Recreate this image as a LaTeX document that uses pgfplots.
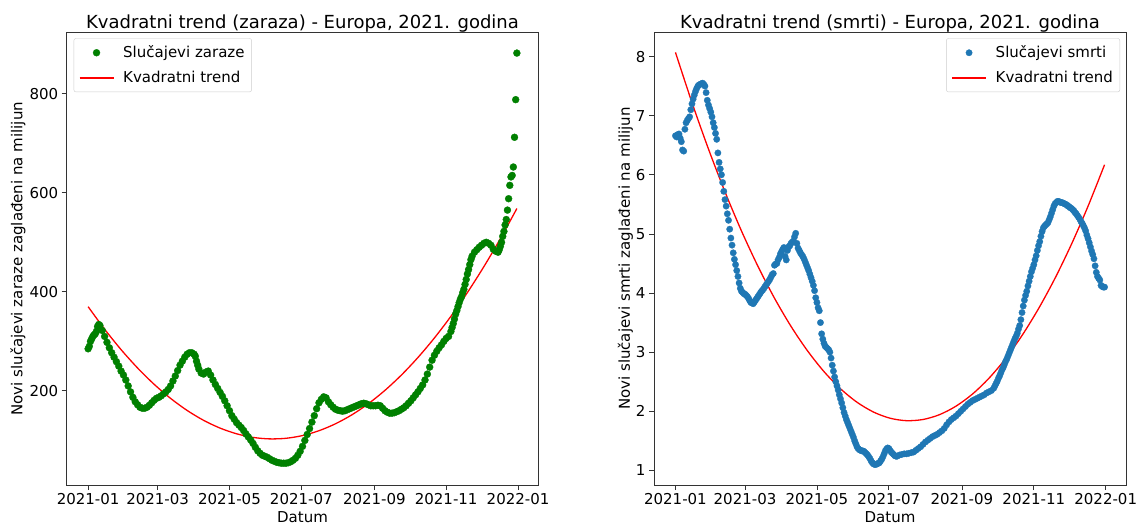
\documentclass[border=0pt]{standalone}
\usepackage{fontspec}
\setmainfont{DejaVu Sans}
\usepackage{pgfplots}
\pgfplotsset{compat=1.18}
\definecolor{mgreen}{HTML}{008000}
\definecolor{mblue}{HTML}{1F77B4}
\definecolor{mred}{HTML}{FF0000}
\pgfplotsset{
  scatleg/.style={legend image code/.code={\draw[##1] plot coordinates {(17pt,0pt)};}},
  lineleg/.style={legend image code/.code={\draw[##1] (0pt,0pt) -- (34pt,0pt);}},
  mystyle/.style={
    scale only axis,
    xmin=-18.2, xmax=382.2,
    xtick={0,59,120,181,243,304,365},
    xticklabels={2021-01,2021-03,2021-05,2021-07,2021-09,2021-11,2022-01},
    tick align=outside,
    xtick pos=bottom, ytick pos=left,
    major tick length=5pt,
    tick style={black!80, line width=0.8pt},
    axis line style={black!80, line width=0.8pt},
    /pgf/number format/assume math mode=true,
    tick label style={font=\fontsize{15}{18}\selectfont},
    every axis x label/.style={at={(axis description cs:0.5,0)}, anchor=center, yshift=-32pt, font=\fontsize{15}{18}\selectfont},
    title style={at={(axis description cs:0.5,1)}, anchor=base, yshift=-2pt, font=\fontsize{18}{21}\selectfont, inner sep=0pt},
    legend style={draw=black!20, rounded corners=2pt, fill=white, font=\fontsize{15}{18}\selectfont, inner xsep=5pt, inner ysep=5.5pt, row sep=8pt,
      /tikz/every odd column/.append style={column sep=7pt}},
    legend cell align=left,
  }
}
\begin{document}
\begin{tikzpicture}
\path[use as bounding box] (0,0) rectangle (1139pt,525pt);
\begin{axis}[mystyle,
  at={(66.7pt,40pt)}, anchor=south west, width=471.6pt, height=452.7pt,
  ymin=10, ymax=924, ytick={200,400,600,800},
  title={Kvadratni trend (zaraza) - Europa, 2021. godina},
  xlabel={Datum},
  ylabel={Novi slučajevi zaraze zaglađeni na milijun},
  every axis y label/.style={at={(axis description cs:0,0.5)}, rotate=90, anchor=center, yshift=48.7pt, font=\fontsize{15}{18}\selectfont},
  legend style={at={(axis description cs:0,1)}, anchor=north west, xshift=7pt, yshift=-6pt},
]
\addplot[only marks, mark=*, mark size=3.5pt, mark options={draw=mgreen, fill=mgreen, line width=0.3pt}, scatleg]
coordinates {
(0,285)(1,290)(2,300)(3,305)(4,310)(5,313)(6,315)(7,320)(8,330)(9,334)(10,332)(12,322)(14,310)(16,298)(18,287)(20,277)(22,268)(24,259)(26,250)(28,240)(30,232)(32,222)(34,210)(36,198)(38,187)(40,178)(42,172)(44,167)(46,165)(48,165)(50,167)(52,171)(54,176)(56,181)(58,185)(60,187)(62,190)(64,194)(66,198)(68,203)(70,210)(72,220)(74,230)(76,241)(78,252)(80,260)(82,268)(84,274)(86,277)(88,277)(90,274)(91,270)(92,260)(93,252)(94,244)(96,236)(98,234)(100,238)(102,240)(104,232)(106,222)(108,213)(110,205)(112,197)(114,189)(116,180)(118,170)(120,160)(122,150)(124,143)(126,136)(128,131)(130,126)(132,120)(134,113)(136,107)(138,101)(140,94)(142,86)(144,79)(146,74)(148,70)(150,68)(152,66)(154,63)(156,60)(158,58)(160,56)(162,55)(164,54)(166,54)(168,54)(170,55)(172,57)(174,60)(176,64)(178,70)(180,78)(182,88)(184,100)(186,112)(188,124)(190,137)(192,150)(194,164)(196,176)(198,183)(200,188)(202,186)(204,178)(206,172)(208,167)(210,163)(212,161)(214,160)(216,159)(218,160)(220,162)(222,164)(224,166)(226,168)(228,170)(230,172)(232,174)(234,175)(236,174)(238,172)(240,170)(242,170)(244,170)(246,171)(248,170)(250,165)(252,160)(254,157)(256,155)(258,155)(260,156)(262,158)(264,160)(266,163)(268,166)(270,170)(272,175)(274,180)(276,186)(278,192)(280,198)(282,205)(284,212)(286,222)(288,234)(290,248)(292,262)(294,272)(296,280)(298,287)(300,293)(302,300)(304,306)(306,310)(308,320)(309,328)(310,336)(311,345)(312,355)(313,362)(314,370)(315,378)(316,385)(317,390)(318,398)(319,405)(320,415)(321,425)(322,436)(323,445)(324,455)(325,465)(326,472)(328,480)(330,485)(332,490)(334,494)(336,498)(338,500)(340,498)(342,494)(344,486)(346,482)(348,480)(349,485)(350,492)(351,500)(352,512)(353,522)(354,535)(355,546)(356,565)(357,588)(358,615)(359,632)(360,635)(361,652)(362,712)(363,788)(364,882)
};
\addlegendentry{Slučajevi zaraze}
\addplot[mred, line width=1.3pt, smooth, lineleg]
coordinates {
(0,370)(14,324.5)(28,283.2)(42,246.2)(56,213.4)(70,184.9)(84,160.6)(98,140.6)(112,124.9)(126,113.4)(140,106.1)(154,103.1)(168,104.3)(182,109.8)(196,119.6)(210,133.6)(224,151.8)(238,174.3)(252,201.1)(266,232.1)(280,267.4)(294,306.9)(308,350.6)(322,398.6)(336,450.9)(350,507.4)(364,568.2)
};
\addlegendentry{Kvadratni trend}
\end{axis}
\begin{axis}[mystyle,
  at={(654pt,40pt)}, anchor=south west, width=472pt, height=452.7pt,
  ymin=0.753, ymax=8.41, ytick={1,2,3,4,5,6,7,8},
  title={Kvadratni trend (smrti) - Europa, 2021. godina},
  xlabel={Datum},
  ylabel={Novi slučajevi smrti zaglađeni na milijun},
  every axis y label/.style={at={(axis description cs:0,0.5)}, rotate=90, anchor=center, yshift=28.6pt, font=\fontsize{15}{18}\selectfont},
  legend style={at={(axis description cs:1,1)}, anchor=north east, xshift=-6pt, yshift=-6pt},
]
\addplot[only marks, mark=*, mark size=3.2pt, mark options={draw=mblue, fill=mblue, line width=0.3pt}, scatleg]
coordinates {
(0,6.66)(1,6.64)(2,6.68)(3,6.69)(4,6.62)(5,6.56)(6,6.42)(7,6.40)(8,6.77)(9,6.88)(10,6.92)(11,6.95)(12,6.98)(13,7.10)(14,7.20)(15,7.28)(16,7.35)(17,7.41)(18,7.46)(19,7.50)(20,7.52)(21,7.53)(22,7.54)(23,7.55)(24,7.53)(25,7.50)(26,7.39)(27,7.26)(28,7.18)(29,7.12)(30,7.06)(31,6.98)(32,6.88)(33,6.80)(34,6.70)(35,6.60)(36,6.37)(37,6.21)(38,6.10)(39,6.00)(40,5.87)(41,5.72)(42,5.58)(43,5.47)(44,5.34)(45,5.23)(46,5.08)(47,4.93)(48,4.81)(49,4.68)(50,4.57)(51,4.48)(52,4.38)(53,4.28)(54,4.17)(55,4.08)(56,4.03)(57,4.01)(58,3.99)(59,3.98)(60,3.96)(61,3.94)(62,3.91)(63,3.87)(64,3.84)(65,3.83)(66,3.82)(67,3.85)(68,3.88)(69,3.91)(70,3.94)(71,3.97)(72,4.00)(73,4.03)(74,4.05)(75,4.08)(76,4.11)(77,4.14)(78,4.17)(79,4.20)(80,4.23)(81,4.27)(82,4.31)(83,4.33)(84,4.47)(85,4.49)(86,4.50)(87,4.56)(88,4.60)(89,4.66)(90,4.70)(91,4.74)(92,4.77)(93,4.62)(94,4.56)(95,4.72)(96,4.78)(97,4.80)(98,4.84)(99,4.86)(100,4.88)(101,4.95)(102,5.01)(103,4.84)(104,4.76)(105,4.72)(106,4.68)(107,4.65)(108,4.62)(109,4.58)(110,4.53)(111,4.48)(112,4.43)(113,4.38)(114,4.32)(115,4.26)(116,4.20)(117,4.13)(118,4.04)(119,3.92)(120,3.84)(121,3.75)(122,3.70)(123,3.50)(124,3.31)(125,3.22)(126,3.15)(127,3.10)(128,3.08)(129,3.06)(130,3.04)(131,3.00)(132,2.90)(133,2.78)(134,2.68)(135,2.58)(136,2.50)(137,2.43)(138,2.36)(139,2.28)(140,2.21)(141,2.14)(142,2.06)(143,1.98)(144,1.92)(145,1.86)(146,1.81)(147,1.76)(148,1.71)(149,1.66)(150,1.61)(151,1.56)(152,1.50)(153,1.45)(154,1.40)(155,1.37)(156,1.35)(157,1.34)(158,1.33)(159,1.33)(160,1.32)(161,1.30)(162,1.28)(163,1.26)(164,1.23)(165,1.20)(166,1.16)(167,1.13)(168,1.11)(169,1.10)(170,1.10)(171,1.11)(172,1.12)(173,1.13)(174,1.16)(175,1.19)(176,1.23)(177,1.28)(178,1.33)(179,1.36)(180,1.38)(181,1.37)(182,1.34)(183,1.31)(184,1.29)(185,1.27)(186,1.25)(187,1.24)(188,1.24)(190,1.26)(192,1.27)(194,1.28)(196,1.28)(198,1.29)(200,1.30)(202,1.31)(204,1.34)(206,1.37)(208,1.40)(210,1.44)(212,1.48)(214,1.51)(216,1.54)(218,1.57)(220,1.59)(222,1.61)(224,1.64)(226,1.67)(228,1.71)(230,1.77)(232,1.82)(234,1.86)(236,1.89)(238,1.92)(240,1.96)(242,2.00)(244,2.04)(246,2.08)(248,2.12)(250,2.15)(252,2.18)(254,2.20)(256,2.22)(258,2.24)(260,2.26)(262,2.28)(264,2.31)(266,2.33)(268,2.35)(270,2.39)(271,2.43)(272,2.47)(273,2.51)(274,2.56)(275,2.60)(276,2.65)(277,2.70)(278,2.74)(279,2.79)(280,2.84)(281,2.88)(282,2.93)(283,2.98)(284,3.03)(285,3.08)(286,3.13)(287,3.18)(288,3.23)(289,3.27)(290,3.32)(291,3.39)(292,3.45)(293,3.55)(294,3.67)(295,3.78)(296,3.88)(297,3.96)(298,4.03)(299,4.12)(300,4.20)(301,4.28)(302,4.36)(303,4.42)(304,4.48)(305,4.56)(306,4.63)(307,4.72)(308,4.80)(309,4.87)(310,4.96)(311,5.04)(312,5.10)(313,5.13)(314,5.15)(315,5.17)(316,5.19)(317,5.24)(318,5.29)(319,5.35)(320,5.41)(321,5.47)(322,5.51)(323,5.53)(324,5.55)(325,5.55)(326,5.54)(327,5.53)(328,5.53)(329,5.52)(330,5.51)(331,5.50)(332,5.49)(333,5.47)(334,5.46)(335,5.44)(336,5.43)(337,5.41)(338,5.39)(339,5.36)(340,5.34)(341,5.31)(342,5.28)(343,5.25)(344,5.21)(345,5.18)(346,5.14)(347,5.10)(348,5.05)(349,4.98)(350,4.92)(351,4.85)(352,4.78)(353,4.71)(354,4.65)(355,4.58)(356,4.46)(357,4.35)(358,4.28)(359,4.25)(360,4.22)(361,4.13)(362,4.11)(363,4.10)(364,4.10)
};
\addlegendentry{Slučajevi smrti}
\addplot[mred, line width=1.3pt, smooth, lineleg]
coordinates {
(0,8.07)(14,7.222)(28,6.436)(42,5.712)(56,5.050)(70,4.451)(84,3.913)(98,3.437)(112,3.023)(126,2.671)(140,2.381)(154,2.153)(168,1.987)(182,1.883)(196,1.841)(210,1.861)(224,1.943)(238,2.087)(252,2.292)(266,2.560)(280,2.890)(294,3.282)(308,3.736)(322,4.251)(336,4.829)(350,5.469)(364,6.170)
};
\addlegendentry{Kvadratni trend}
\end{axis}
\end{tikzpicture}
\end{document}
